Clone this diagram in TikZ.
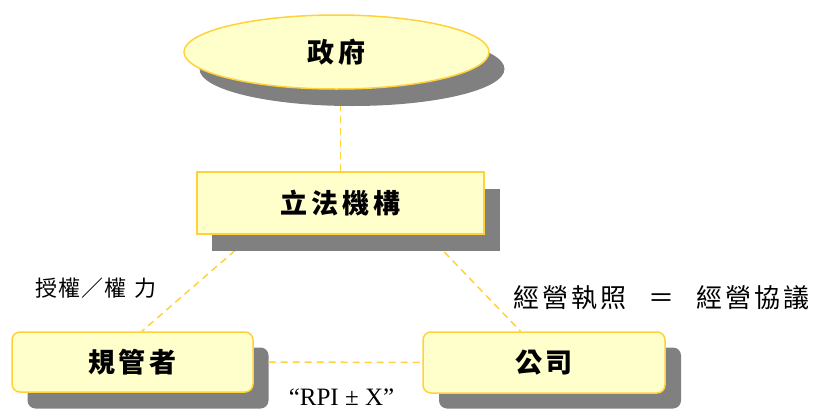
\documentclass[tikz,border=0pt]{standalone}
\usepackage{fontspec}
\setmainfont{Liberation Serif}
\newfontfamily\cjkb[LetterSpace=14]{Noto Sans CJK TC Black}
\newfontfamily\cjkl{Noto Sans CJK TC}
\usetikzlibrary{shapes.geometric}
\definecolor{gold}{RGB}{255,210,60}
\definecolor{paleyellow}{RGB}{255,255,204}
\definecolor{shade}{RGB}{128,128,128}
\tikzset{
  link/.style={draw=gold, line width=1.5pt, dash pattern=on 7pt off 5pt},
  boxnode/.style={draw=gold, fill=paleyellow, line width=1.5pt, inner sep=0pt,
    font=\cjkb\fontsize{27}{30}\selectfont},
  shadowbox/.style={fill=shade, draw=none, inner sep=0pt},
  lbl/.style={inner sep=0pt, font=\cjkl\fontsize{22}{26}\selectfont}
}
\begin{document}
\begin{tikzpicture}[x=1pt,y=-1pt]
\useasboundingbox (0,0) rectangle (816,410);
% main node outlines (placed first, drawn later on top)
\path
  node[boxnode, ellipse, minimum width=305pt, minimum height=74pt, draw=none, fill=none] (gov0) at (336.5,52) {}
  node[boxnode, rectangle, minimum width=287pt, minimum height=62pt, draw=none, fill=none] (leg0) at (340.5,203) {}
  node[boxnode, rectangle, minimum width=241pt, minimum height=60pt, draw=none, fill=none] (reg0) at (132.5,362) {}
  node[boxnode, rectangle, minimum width=242pt, minimum height=61pt, draw=none, fill=none] (co0) at (544,362.5) {};
% connectors
\draw[link] (leg0.north) -- (leg0.north |- gov0.south);
\draw[link] (leg0.200) -- (reg0.73);
\draw[link] (leg0.-20) -- (co0.127);
% shadows
\node[shadowbox, ellipse, minimum width=305pt, minimum height=74pt] (govs) at (352,69) {};
\node[shadowbox, rectangle, minimum width=288pt, minimum height=62pt] (legs) at (355.5,219.5) {};
\node[shadowbox, rectangle, rounded corners=8pt, minimum width=241pt, minimum height=61pt] (regs) at (148,378) {};
\node[shadowbox, rectangle, rounded corners=8pt, minimum width=242pt, minimum height=61pt] (cos) at (560,378) {};
\draw[link] (regs.east |- reg0.east) -- (co0.west);
% boxes
\node[boxnode, ellipse, minimum width=305pt, minimum height=74pt] (gov) at (336.5,52) {政府};
\node[boxnode, rectangle, minimum width=287pt, minimum height=62pt] (leg) at (340.5,203) {立法機構};
\node[boxnode, rectangle, rounded corners=8pt, minimum width=241pt, minimum height=60pt] (reg) at (132.5,362) {規管者};
\node[boxnode, rectangle, rounded corners=8pt, minimum width=242pt, minimum height=61pt] (co) at (544,362.5) {公司};
% labels
\node[lbl] (auth) at (96,288) {授\hspace{1pt}權\hspace{1pt}／\hspace{1pt}權\hspace{8pt}力};
\node[lbl, font=\cjkl\fontsize{26}{30}\selectfont] (lic) at (661.5,297.5)
  {經\hspace{3pt}營\hspace{3pt}執\hspace{3pt}照\hspace{22pt}＝\hspace{22pt}經\hspace{3pt}營\hspace{3pt}協\hspace{3pt}議};
\node[inner sep=0pt, anchor=base, font=\fontsize{25}{30}\selectfont] (rpi) at (341.5,405) {“RPI ± X”};
\end{tikzpicture}
\end{document}
